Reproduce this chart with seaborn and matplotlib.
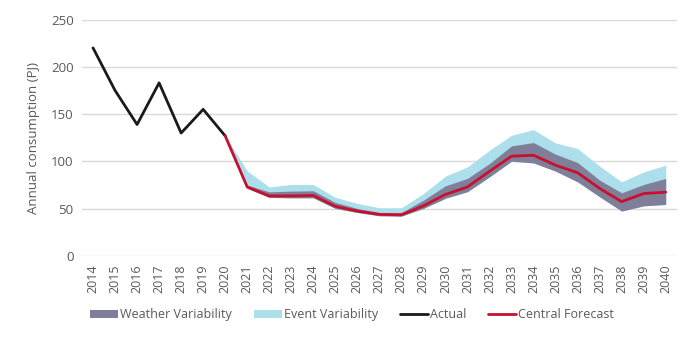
import numpy as np
import pandas as pd
import matplotlib
matplotlib.use("Agg")
import matplotlib.pyplot as plt
from matplotlib.patches import Patch
from matplotlib.lines import Line2D
import seaborn as sns

# ---- data ----
actual_years = [2014, 2015, 2016, 2017, 2018, 2019, 2020]
actual_values = [220, 175, 139, 183, 130, 155, 127]

fc_years = list(range(2020, 2041))
central = [127, 73, 63.5, 63.5, 64, 52.5, 47.5, 44, 43.5, 53, 65, 73, 89.5, 105.5, 106.5, 96, 88, 71.5, 57.5, 66, 67.5]
weather_low = [127, 71.5, 61.9, 61.5, 61.5, 50.3, 46, 42.5, 42.2, 50.3, 61, 68, 83.7, 100.2, 98.4, 89.7, 78.4, 62.6, 47.5, 53, 54.5]
weather_high = [127, 75, 67.8, 68.6, 68.9, 56.6, 50.3, 46, 46, 59, 74.2, 82, 97.8, 116.4, 119.9, 107.6, 98.8, 80.2, 66.8, 75.6, 82]
event_high = [127, 90, 73, 75.6, 75.6, 62, 55.6, 51, 51, 66, 84.4, 94.2, 111.8, 127.6, 133.6, 119.5, 113.6, 95, 78.4, 88.9, 96]

years = list(range(2014, 2041))
yticks = [0, 50, 100, 150, 200, 250]

c_weather = "#7f7f99"
c_event = "#acdeeb"
c_actual = "#1a1a1a"
c_central = "#c8102e"
c_text = "#595959"

sns.set_theme(style="white")
plt.rcParams['font.family'] = ['Open Sans', 'DejaVu Sans']

fig = plt.figure(figsize=(6.98, 3.46), dpi=100)
ax = fig.add_axes([0.1175, 0.2601, 0.852, 0.6835])

df_fc = pd.DataFrame({"year": fc_years, "central": central, "wl": weather_low,
                      "wh": weather_high, "eh": event_high})
df_act = pd.DataFrame({"year": actual_years, "value": actual_values})

ax.fill_between(df_fc["year"], df_fc["wl"], df_fc["eh"], color=c_event, linewidth=0, zorder=2)
ax.fill_between(df_fc["year"], df_fc["wl"], df_fc["wh"], color=c_weather, linewidth=0, zorder=3)
sns.lineplot(data=df_act, x="year", y="value", color=c_actual, linewidth=2, ax=ax, zorder=4)
sns.lineplot(data=df_fc, x="year", y="central", color=c_central, linewidth=2, ax=ax, zorder=5)

ax.set_xlim(2013.5, 2040.5)
ax.set_ylim(0, 250)
ax.set_yticks(yticks)
ax.set_xticks(years)
ax.set_xticklabels([str(y) for y in years], rotation=90, fontsize=9, color=c_text)
ax.set_yticklabels([str(v) for v in yticks], fontsize=9.5, color=c_text)
ax.tick_params(axis='both', length=0, pad=6)
ax.set_xlabel("")
ax.set_ylabel("Annual consumption (PJ)", fontsize=9.5, color=c_text, labelpad=8)
ax.yaxis.grid(True, color="#d9d9d9", linewidth=1)
ax.set_axisbelow(True)
for s in ax.spines.values():
    s.set_visible(False)

handles = [Patch(facecolor=c_weather, edgecolor='none', label="Weather Variability"),
           Patch(facecolor=c_event, edgecolor='none', label="Event Variability"),
           Line2D([0], [0], color=c_actual, lw=2, label="Actual"),
           Line2D([0], [0], color=c_central, lw=2, label="Central Forecast")]
leg = fig.legend(handles=handles, loc='center', bbox_to_anchor=(0.504, 0.09), ncol=4,
                 frameon=False, fontsize=9, handlelength=2.25, handleheight=0.55,
                 handletextpad=0.15, columnspacing=1.75)
for t in leg.get_texts():
    t.set_color(c_text)

fig.savefig("out.png", dpi=100)
